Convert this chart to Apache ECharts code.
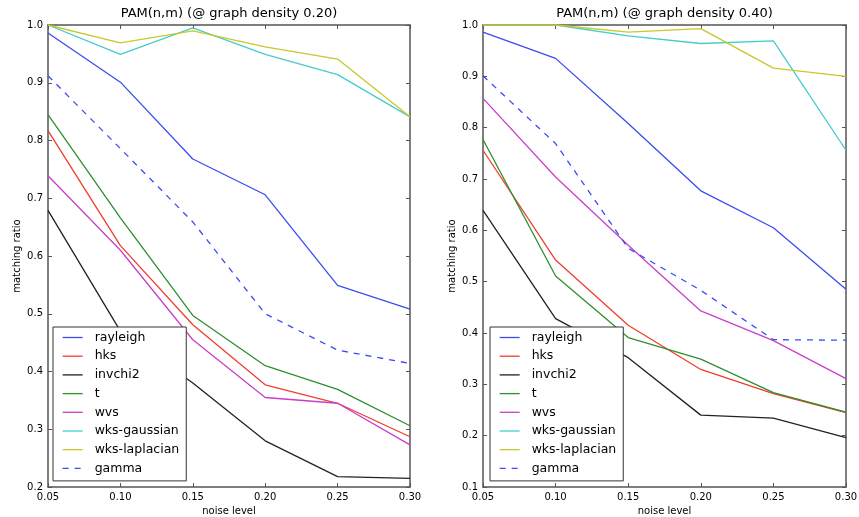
<!DOCTYPE html>
<html>
<head>
<meta charset="utf-8">
<script src="https://cdn.jsdelivr.net/npm/echarts@6/dist/echarts.min.js"></script>
<style>
  html, body { margin: 0; padding: 0; background: #fff; }
  #chart { width: 859px; height: 517px; }
</style>
</head>
<body>
<div id="chart"></div>
<script>
// Noise levels shared by both panels
const noise = [0.05, 0.10, 0.15, 0.20, 0.25, 0.30];
const methods = ['rayleigh', 'hks', 'invchi2', 't', 'wvs', 'wks-gaussian', 'wks-laplacian', 'gamma'];

// Matching ratio at graph density 0.20
const rayleigh20 = [0.986, 0.901, 0.768, 0.706, 0.549, 0.508];
const hks20      = [0.817, 0.618, 0.481, 0.377, 0.345, 0.287];
const invchi2_20 = [0.679, 0.470, 0.380, 0.280, 0.218, 0.215];
const t20        = [0.845, 0.666, 0.497, 0.410, 0.369, 0.306];
const wvs20      = [0.739, 0.610, 0.455, 0.355, 0.345, 0.273];
const wksG20     = [1.000, 0.949, 0.995, 0.949, 0.914, 0.841];
const wksL20     = [1.000, 0.969, 0.990, 0.962, 0.941, 0.841];
const gamma20    = [0.912, 0.786, 0.659, 0.500, 0.437, 0.414];

// Matching ratio at graph density 0.40
const rayleigh40 = [0.986, 0.935, 0.808, 0.677, 0.605, 0.485];
const hks40      = [0.756, 0.542, 0.415, 0.329, 0.282, 0.245];
const invchi2_40 = [0.639, 0.428, 0.352, 0.240, 0.234, 0.196];
const t40        = [0.777, 0.511, 0.391, 0.349, 0.284, 0.246];
const wvs40      = [0.857, 0.704, 0.571, 0.443, 0.385, 0.311];
const wksG40     = [1.000, 1.000, 0.979, 0.964, 0.969, 0.756];
const wksL40     = [1.000, 1.000, 0.986, 0.993, 0.916, 0.900];
const gamma40    = [0.901, 0.769, 0.565, 0.483, 0.387, 0.386];

const panel20 = [rayleigh20, hks20, invchi2_20, t20, wvs20, wksG20, wksL20, gamma20];
const panel40 = [rayleigh40, hks40, invchi2_40, t40, wvs40, wksG40, wksL40, gamma40];

const colors = ['#3b4cf0', '#f03e2c', '#222222', '#2e8f2e', '#c840c8', '#45cccc', '#c8c82a', '#3b4cf0'];
const FONT = 'DejaVu Sans';
const SPINE = '#555555';

const chart = echarts.init(document.getElementById('chart'), null, { renderer: 'canvas' });

// fixed plot boxes; labels may sit outside them freely
const grids = [
  { left: 48, top: 25, width: 362, height: 462, outerBoundsMode: 'none', containLabel: false },
  { left: 483, top: 25, width: 363, height: 462, outerBoundsMode: 'none', containLabel: false }
];

function xAxisFor(gi, pos) {
  const main = pos === 'bottom';
  return {
    type: 'value', gridIndex: gi, position: pos, min: 0.05, max: 0.30, interval: 0.05,
    name: main ? 'noise level' : '', nameLocation: 'middle', nameGap: 13,
    nameTextStyle: { fontFamily: FONT, fontSize: 10, color: '#000' },
    axisLine: { show: true, onZero: false, lineStyle: { color: SPINE, width: 1.5 } },
    axisTick: { show: true, inside: true, length: 4, lineStyle: { color: SPINE } },
    axisLabel: { show: main, margin: 5, fontFamily: FONT, fontSize: 10, color: '#000',
                 formatter: v => v.toFixed(2) },
    splitLine: { show: false }
  };
}

function yAxisFor(gi, pos, min) {
  const main = pos === 'left';
  return {
    type: 'value', gridIndex: gi, position: pos, min: min, max: 1.0, interval: 0.1,
    name: main ? 'matching ratio' : '', nameLocation: 'middle', nameGap: 26, nameRotate: 90,
    nameTextStyle: { fontFamily: FONT, fontSize: 10, color: '#000' },
    axisLine: { show: true, onZero: false, lineStyle: { color: SPINE, width: 1.5 } },
    axisTick: { show: true, inside: true, length: 4, lineStyle: { color: SPINE } },
    axisLabel: { show: main, margin: 5, fontFamily: FONT, fontSize: 10, color: '#000',
                 formatter: v => v.toFixed(1) },
    splitLine: { show: false }
  };
}

const xAxes = [xAxisFor(0, 'bottom'), xAxisFor(1, 'bottom'), xAxisFor(0, 'top'), xAxisFor(1, 'top')];
const yAxes = [yAxisFor(0, 'left', 0.2), yAxisFor(1, 'left', 0.1), yAxisFor(0, 'right', 0.2), yAxisFor(1, 'right', 0.1)];

const series = [];
[panel20, panel40].forEach((panel, gi) => {
  panel.forEach((vals, k) => {
    series.push({
      name: methods[k],
      type: 'line',
      xAxisIndex: gi,
      yAxisIndex: gi,
      data: noise.map((x, i) => [x, vals[i]]),
      symbol: 'none',
      showSymbol: false,
      clip: true,
      color: colors[k],
      lineStyle: { color: colors[k], width: 1.3, type: k === 7 ? [6, 6] : 'solid' },
      animation: false,
      z: 2 + k
    });
  });
});

function legendFor(left) {
  return {
    orient: 'vertical', left: left, top: 327,
    data: methods,
    itemWidth: 20, itemHeight: 12, itemGap: 5.7,
    padding: [4, 7, 6, 9],
    backgroundColor: '#ffffff',
    borderColor: '#333333', borderWidth: 1, borderRadius: 0,
    selectedMode: false,
    // only the line sample is wanted, so the marker dot is made invisible
    itemStyle: { color: 'rgba(0,0,0,0)', borderWidth: 0, opacity: 0 },
    lineStyle: { width: 1.3 },
    textStyle: { fontFamily: FONT, fontSize: 12.5, color: '#000', padding: [0, 0, 0, 7] },
    z: 20
  };
}

chart.setOption({
  animation: false,
  backgroundColor: '#ffffff',
  grid: grids,
  xAxis: xAxes,
  yAxis: yAxes,
  legend: [legendFor(53), legendFor(490)],
  graphic: [
    { type: 'text', x: 229, y: 14, style: { text: 'PAM(n,m) (@ graph density 0.20)', fontFamily: FONT, fontSize: 13, fill: '#000', textAlign: 'center', textVerticalAlign: 'middle' } },
    { type: 'text', x: 664.5, y: 14, style: { text: 'PAM(n,m) (@ graph density 0.40)', fontFamily: FONT, fontSize: 13, fill: '#000', textAlign: 'center', textVerticalAlign: 'middle' } }
  ],
  series: series
});
</script>
</body>
</html>
